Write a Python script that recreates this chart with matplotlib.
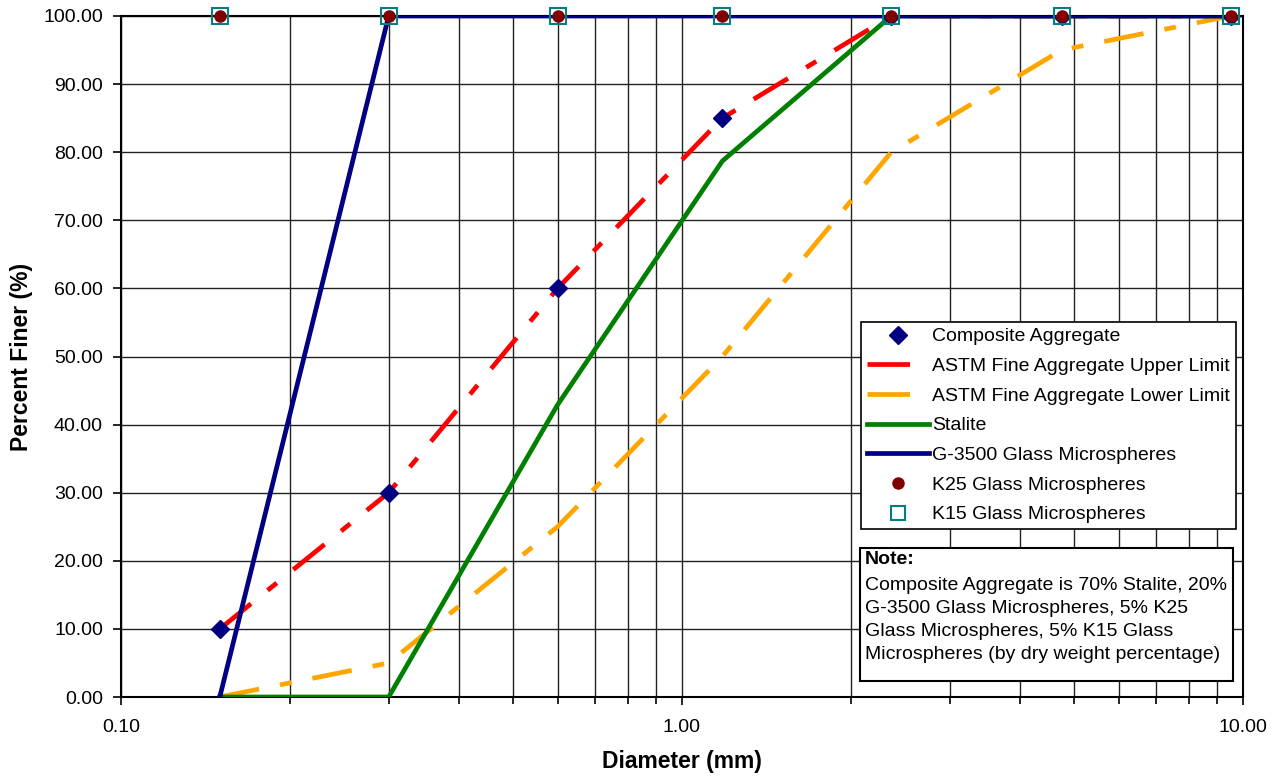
import matplotlib.pyplot as plt
from matplotlib.lines import Line2D
from matplotlib.ticker import FixedLocator, NullFormatter

plt.rcParams['font.family'] = ['Liberation Sans', 'DejaVu Sans']

sieve = [0.15, 0.3, 0.6, 1.18, 2.36, 4.75, 9.5]
composite = [10, 30, 60, 85, 100, 100, 100]
astm_upper = [10, 30, 60, 85, 100, 100, 100]
astm_lower = [0, 5, 25, 50, 80, 95, 100]
stalite = [0, 0, 42.9, 78.7, 100, 100, 100]
g3500 = [0, 100, 100, 100, 100, 100, 100]
k25 = [100, 100, 100, 100, 100, 100, 100]
k15 = [100, 100, 100, 100, 100, 100, 100]

W, H = 1278, 777
fig = plt.figure(figsize=(W / 100, H / 100), dpi=100)
ax = fig.add_axes([121 / W, 80 / H, 1122 / W, 681 / H])

dash = (8.5, 4.5, 2.5, 4.5)
ax.plot(sieve, astm_upper, color='#ff0000', lw=3.4, dashes=dash, zorder=3)
ax.plot(sieve, astm_lower, color='#ffa500', lw=3.4, dashes=dash, zorder=3)
ax.plot(sieve, stalite, color='#008000', lw=3.4, zorder=4)
ax.plot(sieve, g3500, color='#000080', lw=3.4, zorder=4)
ax.plot(sieve, composite, ls='none', marker='D', ms=9, color='#000080', zorder=5)
ax.plot(sieve, k15, ls='none', marker='s', ms=11.5, mfc='none', mec='#008080',
        mew=1.5, zorder=6, clip_on=False)
ax.plot(sieve, k25, ls='none', marker='o', ms=8, color='#800000', zorder=7, clip_on=False)

ax.set_xscale('log')
ax.set_xlim(0.1, 10)
ax.set_ylim(0, 100)
ax.set_xticks([0.1, 1, 10])
ax.set_xticklabels(['0.10', '1.00', '10.00'])
ax.xaxis.set_minor_locator(FixedLocator([m * d for d in (0.1, 1) for m in range(2, 10)]))
ax.xaxis.set_minor_formatter(NullFormatter())
ax.set_yticks(range(0, 101, 10))
ax.set_yticklabels(['%.2f' % v for v in range(0, 101, 10)])
ax.grid(True, which='both', axis='x', color='#222222', lw=1)
ax.grid(True, which='major', axis='y', color='#222222', lw=1)
ax.tick_params(which='both', labelsize=14, length=6, width=1.2, direction='out')
ax.tick_params(axis='x', which='major', pad=10)
ax.tick_params(axis='y', pad=7)
ax.tick_params(which='minor', length=5)
for s in ax.spines.values():
    s.set_linewidth(1.5)

ax.set_xlabel('Diameter (mm)', fontsize=16.5, fontweight='bold', labelpad=10)
ax.set_ylabel('Percent Finer (%)', fontsize=16.5, fontweight='bold', labelpad=7)

# legend proxies
handles = [
    Line2D([], [], ls='none', marker='D', ms=9, color='#000080'),
    Line2D([], [], color='#ff0000', lw=3.4, dashes=(9, 20)),
    Line2D([], [], color='#ffa500', lw=3.4, dashes=(9, 20)),
    Line2D([], [], color='#008000', lw=3.4),
    Line2D([], [], color='#000080', lw=3.4),
    Line2D([], [], ls='none', marker='o', ms=8, color='#800000'),
    Line2D([], [], ls='none', marker='s', ms=10, mfc='none', mec='#008080', mew=1.5),
]
labels = ['Composite Aggregate', 'ASTM Fine Aggregate Upper Limit',
          'ASTM Fine Aggregate Lower Limit', 'Stalite', 'G-3500 Glass Microspheres',
          'K25 Glass Microspheres', 'K15 Glass Microspheres']
leg = ax.legend(handles, labels, loc='upper left',
                bbox_to_anchor=(861 / W, 1 - 322 / H), bbox_transform=fig.transFigure,
                fontsize=14, frameon=True, fancybox=False, edgecolor='black',
                framealpha=1, borderpad=0.3, borderaxespad=0, labelspacing=0.62,
                handlelength=3.2, handletextpad=0.15)
leg.get_frame().set_linewidth(1.2)

fig.patches.append(plt.Rectangle((860 / W, 1 - 681 / H), 373 / W, 133 / H,
                                 transform=fig.transFigure, fill=True, fc='white',
                                 ec='black', lw=1.5, zorder=0))
fig.text(865 / W, 1 - 551 / H, 'Note:', fontsize=14, fontweight='bold',
         va='top', ha='left')
fig.text(865 / W, 1 - 577 / H,
         'Composite Aggregate is 70% Stalite, 20%\nG-3500 Glass Microspheres, 5% K25\n'
         'Glass Microspheres, 5% K15 Glass\nMicrospheres (by dry weight percentage)',
         fontsize=14, va='top', ha='left', linespacing=1.45)

fig.savefig('out.png', dpi=100)
